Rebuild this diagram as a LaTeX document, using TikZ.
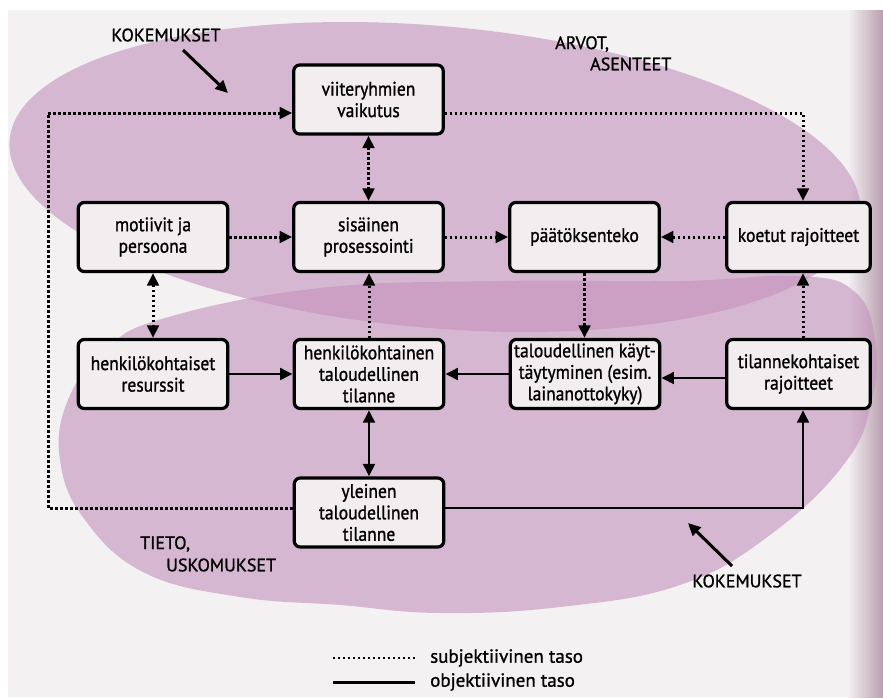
\documentclass[tikz,border=0pt]{standalone}
\usepackage{fontspec}
\setmainfont{PT Sans}
\newfontfamily\boxfont{PT Sans}[FakeStretch=0.9, FakeBold=1.1]
\newfontfamily\labfont{PT Sans}[FakeBold=1.1]
\usetikzlibrary{arrows.meta}
\definecolor{paper}{RGB}{243,241,242}
\definecolor{boxfill}{RGB}{242,238,240}
\definecolor{blob}{RGB}{196,145,188}
\definecolor{gutter}{RGB}{185,158,175}
\begin{document}
\begin{tikzpicture}[x=1pt,y=-1pt,
  box/.style={draw=black, line width=3.2pt, rounded corners=6pt, fill=boxfill,
    minimum width=149.5pt, minimum height=69pt, align=center, inner sep=2pt,
    font=\boxfont\fontsize{19.5}{21.5}\selectfont},
  sub/.style={line width=3pt, dash pattern=on 2.4pt off 2.6pt},
  obj/.style={line width=2.9pt},
  tip/.style={-{Triangle[length=12.5pt,width=11.5pt]}},
  both/.style={{Triangle[length=12.5pt,width=11.5pt]}-{Triangle[length=12.5pt,width=11.5pt]}},
  lab/.style={font=\labfont\fontsize{18}{20}\selectfont, inner sep=0pt},
  leg/.style={font=\labfont\fontsize{19}{20}\selectfont, inner sep=0pt, anchor=west}
]
\useasboundingbox (0,0) rectangle (883,697);
\fill[white] (0,0) rectangle (883,697);
\fill[paper] (8,10) rectangle (883,697);
\shade[left color=paper, right color=gutter] (848,10) rectangle (883,697);

% pink areas
\fill[blob, opacity=.6, rotate around={-5:(435,177)}] (435,177) ellipse [x radius=427, y radius=151];
\fill[blob, opacity=.6] plot[smooth cycle, tension=0.7] coordinates {
  (165,318) (320,288) (500,281) (680,281) (800,276) (855,292) (875,340)
  (872,400) (845,463) (770,535) (680,585) (560,607) (440,613) (340,605)
  (240,597) (145,573) (85,520) (60,460) (68,400) (105,350)};

% boxes
\node[box] (vii) at (368.5,99.5) {viiteryhmien\\vaikutus};
\node[box] (mot) at (153,237) {motiivit ja\\persoona};
\node[box] (sis) at (368.5,237) {sisäinen\\prosessointi};
\node[box] (paa) at (584.5,237) {päätöksenteko};
\node[box, minimum width=143.5pt] (koe) at (798.5,237) {koetut rajoitteet};
\node[box] (res) at (153,374) {henkilökohtaiset\\resurssit};
\node[box] (hti) at (369,374) {henkilökohtainen\\taloudellinen\\tilanne};
\node[box] (ktt) at (585,374) {taloudellinen käyt-\\täytyminen (esim.\\lainanottokyky)};
\node[box, minimum width=143.5pt] (tkr) at (798.5,374) {tilannekohtaiset\\rajoitteet};
\node[box] (yle) at (369,512.5) {yleinen\\taloudellinen\\tilanne};

% subjective (dotted) connectors
\coordinate (lc) at (48,508);
\coordinate (lt) at (48,113);
\coordinate (rt) at (803,113);
\draw[sub, tip] (yle.west |- lc) -- (lc) -- (lt) -- (vii.west |- lt);
\draw[sub, tip] (vii.east |- rt) -- (rt) -- (rt |- koe.north);
\draw[sub, both] (vii.south) -- (sis.north);
\draw[sub, tip] (mot.east) -- (sis.west);
\draw[sub, tip] (sis.east) -- (paa.west);
\draw[sub, tip] (koe.west) -- (paa.east);
\draw[sub, tip] (paa.south) -- (paa.south |- ktt.north);
\draw[sub, both] (mot.south) -- (res.north);
\draw[sub, tip] (hti.north) -- (hti.north |- sis.south);
\draw[sub, tip] (rt |- tkr.north) -- (rt |- koe.south);

% objective (solid) connectors
\coordinate (br) at (803,508);
\draw[obj, tip] (res.east) -- (hti.west);
\draw[obj, tip] (ktt.west) -- (hti.east);
\draw[obj, tip] ([yshift=-4pt]tkr.west) -- ([yshift=-4pt]ktt.east);
\draw[obj, both] (hti.south) -- (hti.south |- yle.north);
\draw[obj, tip] (yle.east |- br) -- (br) -- (br |- tkr.south);

% labels
\node[lab] (kok1) at (166,35) {KOKEMUKSET};
\coordinate (k1a) at (183,50);
\coordinate (k1b) at (228,93);
\draw[obj, line width=3pt, tip] (k1a) -- (k1b);
\node[lab] (kok2) at (747,581) {KOKEMUKSET};
\coordinate (k2a) at (732,566);
\coordinate (k2b) at (688,523);
\draw[obj, line width=3pt, tip] (k2a) -- (k2b);
\node[lab, anchor=west] (arvot) at (555,44) {ARVOT,};
\node[lab, anchor=west] (asen) at (590,64) {ASENTEET};
\node[lab, anchor=west] (tieto) at (140,544) {TIETO,};
\node[lab, anchor=west] (usko) at (166,565) {USKOMUKSET};

% legend
\coordinate (ls1) at (333,658);
\coordinate (ls2) at (415,658);
\coordinate (lo1) at (333,682);
\coordinate (lo2) at (415,682);
\draw[sub, line width=2.6pt] (ls1) -- (ls2);
\draw[obj, line width=3pt] (lo1) -- (lo2);
\node[leg] (legs) at (430,658) {subjektiivinen taso};
\node[leg] (lego) at (430,682) {objektiivinen taso};
\end{tikzpicture}
\end{document}
